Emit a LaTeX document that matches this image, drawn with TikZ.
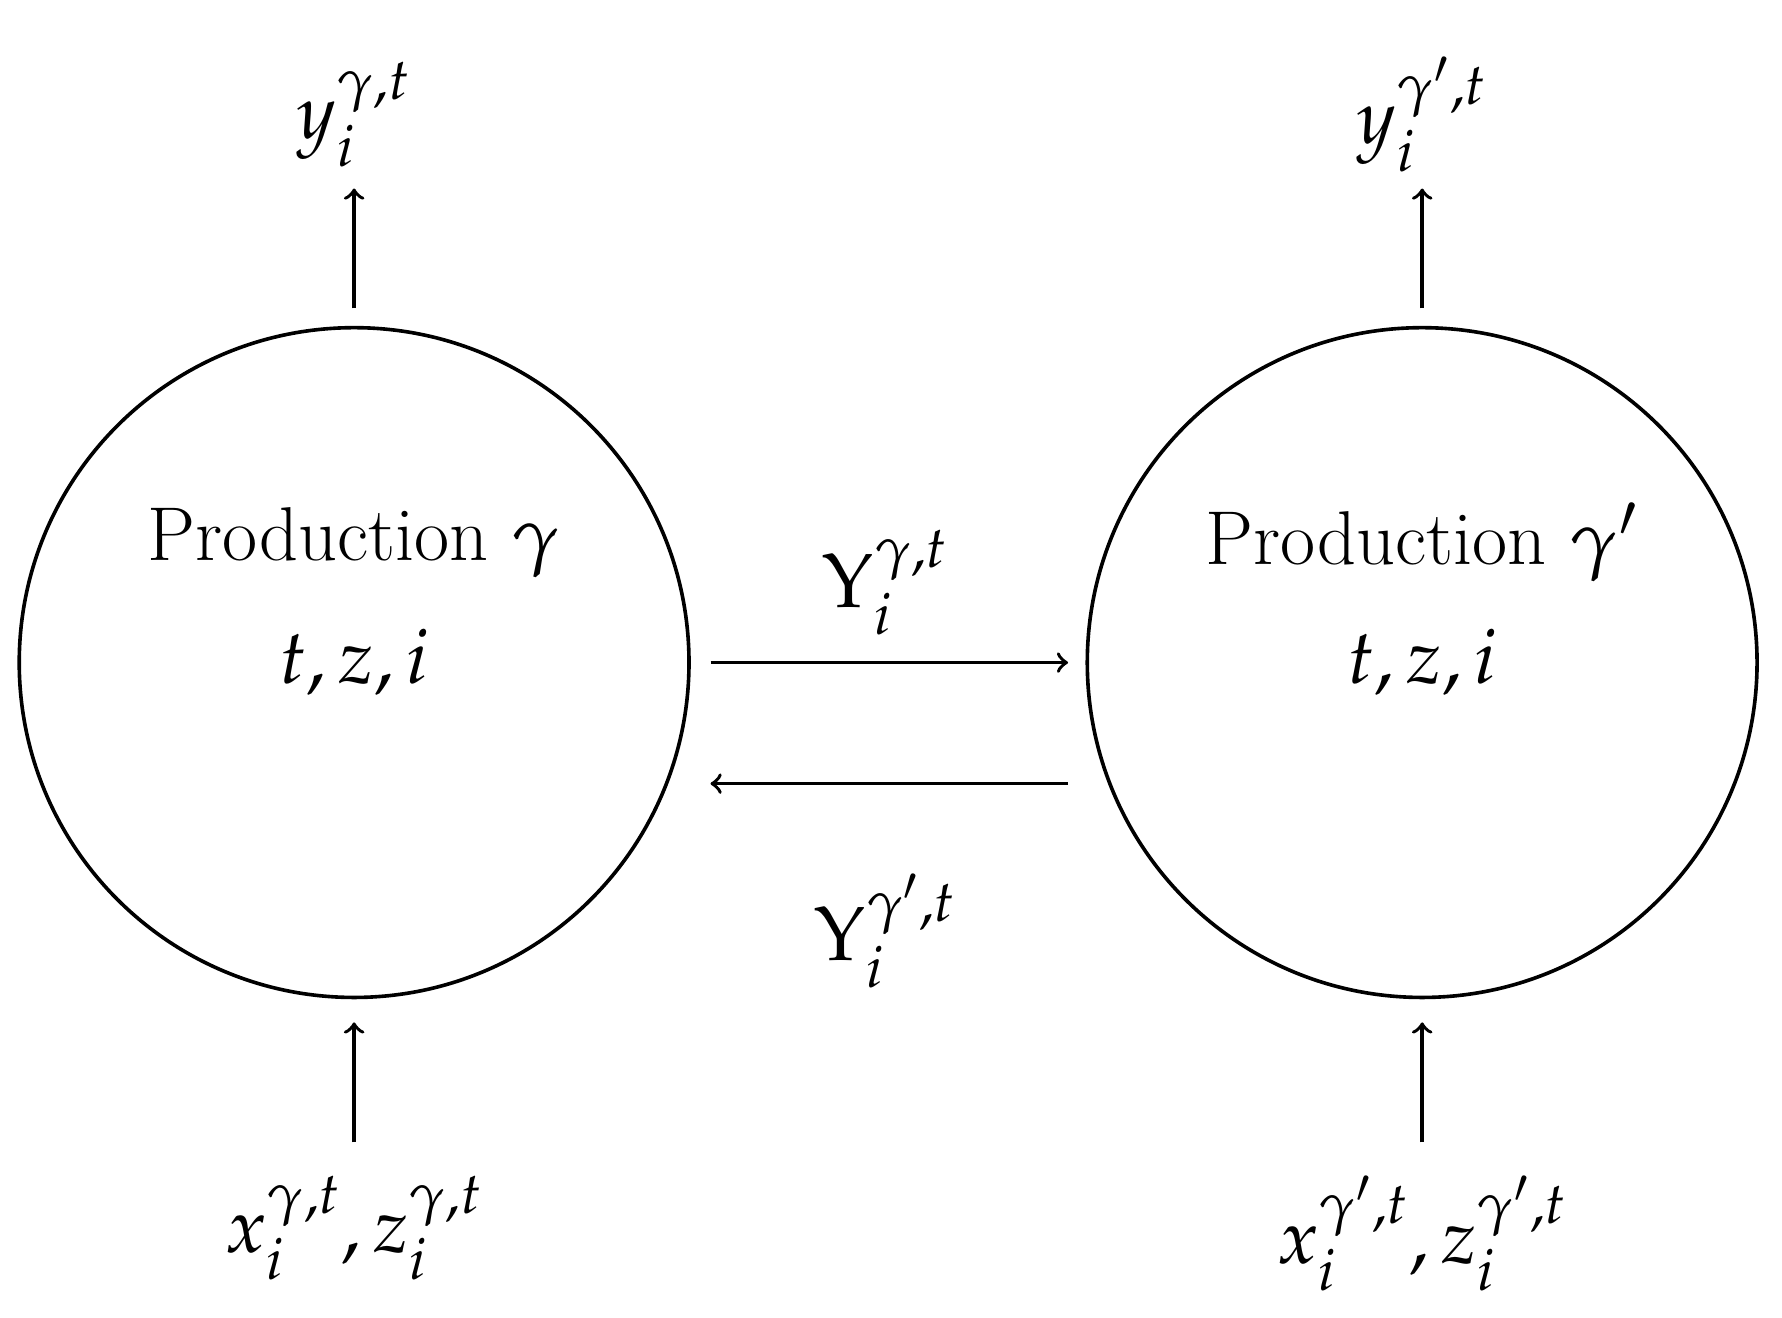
\documentclass[tikz,border=0pt]{standalone}
\usepackage{mathpazo}
\begin{document}
\begin{tikzpicture}[x=0.01cm,y=-0.01cm,line width=0.9pt,
  circ/.style={circle,draw,minimum size=5.86cm,inner sep=0pt},
  lab/.style={font=\fontsize{19}{23}\selectfont,inner sep=0pt},
  arr/.style={->}]
\useasboundingbox (0,0) rectangle (1560,1153);
\node[circ] (L) at (310,580) {};
\node[circ] (R) at (1245,580) {};
\node[lab] (Lt) at (310,475) {Production $\gamma$};
\node[lab] (Lv) at (310,580) {$t,z,i$};
\node[lab] (Rt) at (1245,475) {Production $\gamma'$};
\node[lab] (Rv) at (1245,580) {$t,z,i$};
\node[lab] (yL) at (310,100) {$y_i^{\gamma,t}$};
\node[lab] (yR) at (1245,100) {$y_i^{\gamma',t}$};
\node[lab] (xL) at (310,1075) {$x_i^{\gamma,t},z_i^{\gamma,t}$};
\node[lab] (xR) at (1245,1080) {$x_i^{\gamma',t},z_i^{\gamma',t}$};
\node[lab] (u1) at (775,510) {$\Upsilon_i^{\gamma,t}$};
\node[lab] (u2) at (775,815) {$\Upsilon_i^{\gamma',t}$};
\coordinate (a1) at (310,270); \coordinate (a2) at (310,165);
\coordinate (b1) at (1245,270); \coordinate (b2) at (1245,165);
\coordinate (c1) at (310,1000); \coordinate (c2) at (310,895);
\coordinate (d1) at (1245,1000); \coordinate (d2) at (1245,895);
\coordinate (e1) at (622,580); \coordinate (e2) at (935,580);
\coordinate (f1) at (935,686); \coordinate (f2) at (622,686);
\draw[arr] (a1) -- (a2);
\draw[arr] (b1) -- (b2);
\draw[arr] (c1) -- (c2);
\draw[arr] (d1) -- (d2);
\draw[arr] (e1) -- (e2);
\draw[arr] (f1) -- (f2);
\end{tikzpicture}
\end{document}
